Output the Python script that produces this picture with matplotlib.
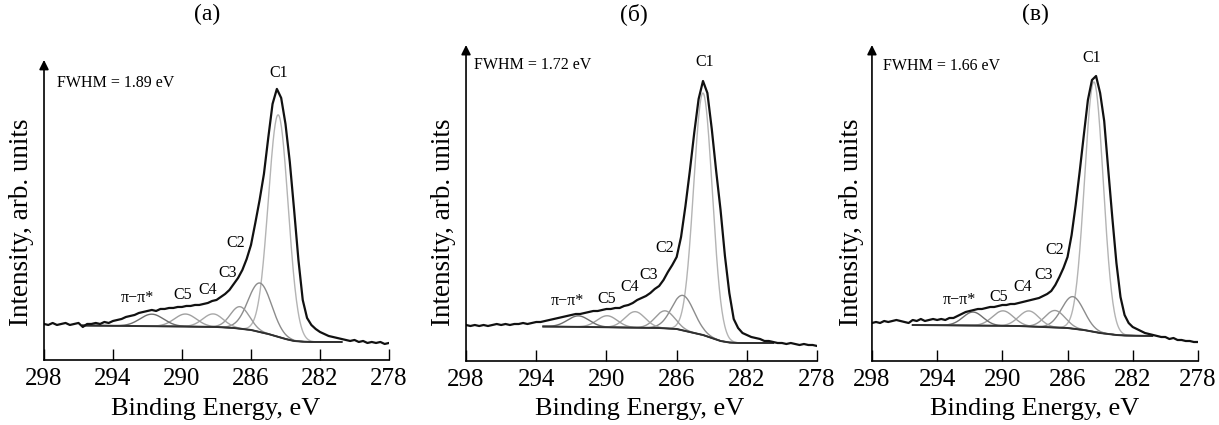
import matplotlib.pyplot as plt
import numpy as np

plt.rcParams['font.family'] = ['Liberation Serif', 'DejaVu Serif']

# binding energy grid of the measured spectra, eV
energy = np.arange(298.0, 277.99, -0.25)

spec_a = [36, 35, 37, 35, 36, 37, 35, 36,
          37, 33, 36, 36, 37, 36, 38, 37,
          39, 40, 41, 43, 44, 45, 47, 48,
          49, 50, 49, 51, 51, 52, 52, 53,
          53, 54, 54, 55, 55, 56, 57, 59,
          60, 63, 66, 70, 76, 82, 90, 101,
          115, 137, 160, 186, 222, 256, 271, 262,
          236, 198, 150, 100, 60, 42, 35, 31,
          28, 26, 24, 23, 22, 21, 20, 19,
          20, 18, 19, 17, 18, 17, 18, 16,
          17]
spec_b = [36, 35, 36, 35, 36, 35, 36, 37,
          36, 37, 36, 37, 37, 38, 37, 38,
          39, 39, 40, 41, 42, 43, 44, 45,
          46, 47, 47, 48, 49, 50, 50, 51,
          52, 52, 53, 53, 55, 56, 58, 61,
          63, 65, 68, 72, 75, 81, 89, 96,
          104, 124, 155, 190, 228, 262, 280, 268,
          232, 190, 151, 105, 68, 42, 33, 28,
          26, 24, 23, 22, 20, 20, 19, 18,
          18, 17, 18, 17, 16, 17, 16, 16,
          15]
spec_c = [38, 39, 38, 40, 39, 40, 41, 40,
          39, 38, 41, 40, 42, 40, 41, 42,
          41, 42, 41, 43, 43, 45, 47, 49,
          50, 51, 52, 52, 53, 54, 54, 55,
          56, 56, 57, 57, 58, 59, 60, 61,
          62, 63, 65, 67, 70, 76, 84, 93,
          104, 126, 156, 190, 226, 261, 281, 285,
          268, 240, 191, 143, 98, 64, 46, 38,
          34, 32, 30, 28, 27, 26, 25, 24,
          24, 22, 23, 21, 21, 20, 20, 19,
          19]

# Shirley backgrounds
bg_e_a = [295.75, 293, 290, 288, 287, 286, 285.5, 285, 284.5, 284, 283.5, 283, 282.5, 280.75]
bg_i_a = [34.5, 34, 33.5, 33, 32, 30, 28, 26, 23.5, 21, 19, 18.3, 18, 18]
bg_e_b = [293.6, 291, 289, 287, 286, 285.5, 285, 284.5, 284, 283.5, 283, 282.5, 280.5]
bg_i_b = [34.5, 34, 33.5, 33, 32, 30, 28, 26, 23, 20, 18.5, 18, 18]
bg_e_c = [295.5, 292, 289, 287.5, 286, 285.5, 285, 284.5, 284, 283.5, 283, 282.5, 280.8]
bg_i_c = [36, 35.5, 35, 34, 33, 32, 31, 29.5, 28, 27, 26, 25.5, 25]

# fitted components: C1, C2, C3, C4, C5, pi-pi*
comp_names = ['C1', 'C2', 'C3', 'C4', 'C5', 'π−π*']
centers_a = [284.42, 285.48, 286.64, 288.2, 289.8, 291.75]
amps_a = [222, 49, 22, 13, 12.5, 12]
widths_a = [1.35, 1.6, 1.3, 1.4, 1.5, 1.6]
centers_b = [284.5, 285.64, 286.66, 288.37, 289.96, 291.6]
amps_b = [242, 35, 17.5, 16, 11.5, 11]
widths_b = [1.25, 1.5, 1.3, 1.35, 1.35, 1.45]
centers_c = [284.38, 285.67, 286.77, 288.37, 289.96, 291.8]
amps_c = [250, 32, 17, 15.5, 15, 13.5]
widths_c = [1.35, 1.6, 1.45, 1.45, 1.5, 1.45]

fwhm_values = ['1.89', '1.72', '1.66']
panel_titles = ['(a)', '(б)', '(в)']

comp_colors = ['#b4b4b4', '#8c8c8c', '#9a9a9a', '#a8a8a8', '#a0a0a0', '#6e6e6e']

fig = plt.figure(figsize=(12.19, 4.25), dpi=100)
axes = [fig.add_axes([0.0361, 0.153, 0.283, 0.706]),
        fig.add_axes([0.3823, 0.1506, 0.288, 0.7435]),
        fig.add_axes([0.7153, 0.1506, 0.2674, 0.7435])]
tops = [300, 316, 316]
title_x = [207, 634, 1035]
xlab_x = [216, 640, 1035]
ylab_x = [22, 443, 852]

# label anchors (energy, intensity) for C1..C5, pi-pi*, and FWHM text
label_pos = [
    [(284.4, 287), (286.87, 117), (287.33, 87), (288.5, 70), (289.95, 65), (292.6, 62)],
    [(284.4, 299), (286.7, 113), (287.6, 86), (288.7, 74), (289.97, 62), (292.25, 60)],
    [(284.5, 303), (286.77, 111), (287.45, 86), (288.74, 74), (290.2, 64), (292.66, 61)],
]
fwhm_pos = [(297.25, 277), (297.55, 296), (297.33, 295)]

panels = [
    (spec_a, bg_e_a, bg_i_a, centers_a, amps_a, widths_a),
    (spec_b, bg_e_b, bg_i_b, centers_b, amps_b, widths_b),
    (spec_c, bg_e_c, bg_i_c, centers_c, amps_c, widths_c),
]

for k, ax in enumerate(axes):
    spec, bg_e, bg_i, cen, amp, wid = panels[k]
    ax.set_xlim(298, 278)
    ax.set_ylim(0, tops[k])

    # components sit on the background
    e_fine = np.linspace(bg_e[0], bg_e[-1], 500)
    base = np.interp(e_fine, bg_e[::-1], bg_i[::-1])
    for c, a, w, col in zip(cen, amp, wid, comp_colors):
        g = a * np.exp(-4 * np.log(2) * ((e_fine - c) / w) ** 2)
        ax.plot(e_fine, base + g, color=col, lw=1.0)
    ax.plot(bg_e, bg_i, color='#303030', lw=1.4)
    ax.plot(energy, spec, color='#111111', lw=1.6)

    for name, (ex, iy) in zip(comp_names, label_pos[k]):
        ax.text(ex, iy, name, fontsize=11.5, ha='center', va='center')
    ax.text(fwhm_pos[k][0], fwhm_pos[k][1], 'FWHM = ' + fwhm_values[k] + ' eV',
            fontsize=11.5, ha='left', va='center')

    for s in ['top', 'right', 'left']:
        ax.spines[s].set_visible(False)
    ax.spines['bottom'].set_linewidth(1.2)
    ax.set_yticks([])
    ax.set_xticks([298, 294, 290, 286, 282, 278])
    ax.tick_params(axis='x', direction='in', length=8, width=1.0, labelsize=18, pad=6)
    ax.annotate('', xy=(0, 1), xycoords='axes fraction', xytext=(0, 0),
                textcoords='axes fraction', annotation_clip=False,
                arrowprops=dict(arrowstyle='-|>', color='black', lw=1.2,
                                mutation_scale=14, shrinkA=0, shrinkB=0))

    fig.text(title_x[k] / 1219, 1 - 14 / 425, panel_titles[k], fontsize=17,
             ha='center', va='center')
    fig.text(ylab_x[k] / 1219, 1 - 222 / 425, 'Intensity, arb. units', fontsize=19.5,
             rotation=90, ha='center', va='center')
    fig.text(xlab_x[k] / 1219, 1 - 409 / 425, 'Binding Energy, eV', fontsize=19,
             ha='center', va='center')

fig.savefig('out.png', dpi=100)
